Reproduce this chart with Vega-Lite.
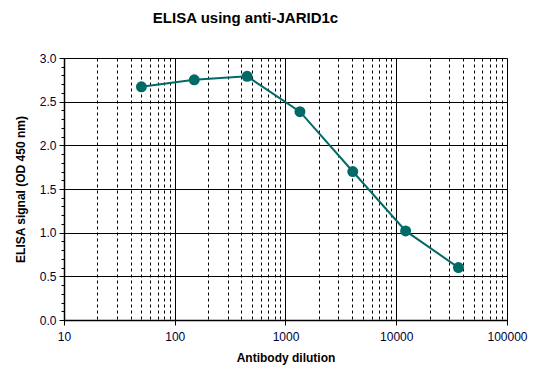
{
  "$schema": "https://vega.github.io/schema/vega-lite/v6.json",
  "width": 443,
  "height": 262,
  "autosize": "none",
  "padding": {"left": 64, "top": 58, "right": 37, "bottom": 55},
  "background": "white",
  "title": {
    "text": "ELISA using anti-JARID1c",
    "font": "Liberation Sans",
    "fontSize": 15,
    "fontWeight": "bold",
    "color": "#000000",
    "anchor": "middle",
    "dx": -40,
    "offset": 26
  },
  "config": {
    "view": {"stroke": "#999999", "strokeWidth": 1},
    "axis": {
      "labelFont": "Liberation Sans",
      "labelFontSize": 12,
      "labelColor": "#000033",
      "labelFlush": false,
      "titleFont": "Liberation Sans",
      "titleFontSize": 12,
      "titleFontWeight": "bold",
      "titleColor": "#000000",
      "domainColor": "#000000",
      "domainWidth": 1.5,
      "tickColor": "#000000",
      "gridColor": "#000000",
      "gridOpacity": 1,
      "gridWidth": 1
    }
  },
  "data": {
    "values": [
      {"dilution": 50, "signal": 2.67},
      {"dilution": 150, "signal": 2.75},
      {"dilution": 450, "signal": 2.79},
      {"dilution": 1350, "signal": 2.385},
      {"dilution": 4050, "signal": 1.70},
      {"dilution": 12150, "signal": 1.02},
      {"dilution": 36450, "signal": 0.60}
    ]
  },
  "encoding": {
    "x": {
      "field": "dilution",
      "type": "quantitative",
      "scale": {"type": "log", "domain": [10, 100000], "nice": false},
      "axis": {
        "title": "Antibody dilution",
        "titlePadding": 10,
        "values": [10,20,30,40,50,60,70,80,90,100,200,300,400,500,600,700,800,900,1000,2000,3000,4000,5000,6000,7000,8000,9000,10000,20000,30000,40000,50000,60000,70000,80000,90000,100000],
        "labelExpr": "indexof([10,100,1000,10000,100000], datum.value) >= 0 ? datum.value : ''",
        "labelPadding": 6,
        "tickSize": 5,
        "tickOpacity": {"condition": {"test": "indexof([10,100,1000,10000,100000], datum.value) >= 0", "value": 1}, "value": 0},
        "gridDash": {"condition": {"test": "indexof([10,100,1000,10000,100000], datum.value) >= 0", "value": []}, "value": [3, 3]},
        "labelOverlap": false
      }
    },
    "y": {
      "field": "signal",
      "type": "quantitative",
      "scale": {"domain": [0, 3], "nice": false},
      "axis": {
        "title": "ELISA signal (OD 450 nm)",
        "titlePadding": 12,
        "values": [0,0.1,0.2,0.3,0.4,0.5,0.6,0.7,0.8,0.9,1,1.1,1.2,1.3,1.4,1.5,1.6,1.7,1.8,1.9,2,2.1,2.2,2.3,2.4,2.5,2.6,2.7,2.8,2.9,3],
        "labelExpr": "indexof([0,0.5,1,1.5,2,2.5,3], datum.value) >= 0 ? format(datum.value, '.1f') : ''",
        "labelPadding": 3,
        "tickSize": {"condition": {"test": "indexof([0,0.5,1,1.5,2,2.5,3], datum.value) >= 0", "value": 5}, "value": 3},
        "gridOpacity": {"condition": {"test": "indexof([0,0.5,1,1.5,2,2.5,3], datum.value) >= 0", "value": 1}, "value": 0},
        "labelOverlap": false
      }
    }
  },
  "layer": [
    {"mark": {"type": "line", "color": "#006B66", "strokeWidth": 2}},
    {"mark": {"type": "point", "filled": true, "color": "#006B66", "size": 120, "opacity": 1}}
  ]
}
